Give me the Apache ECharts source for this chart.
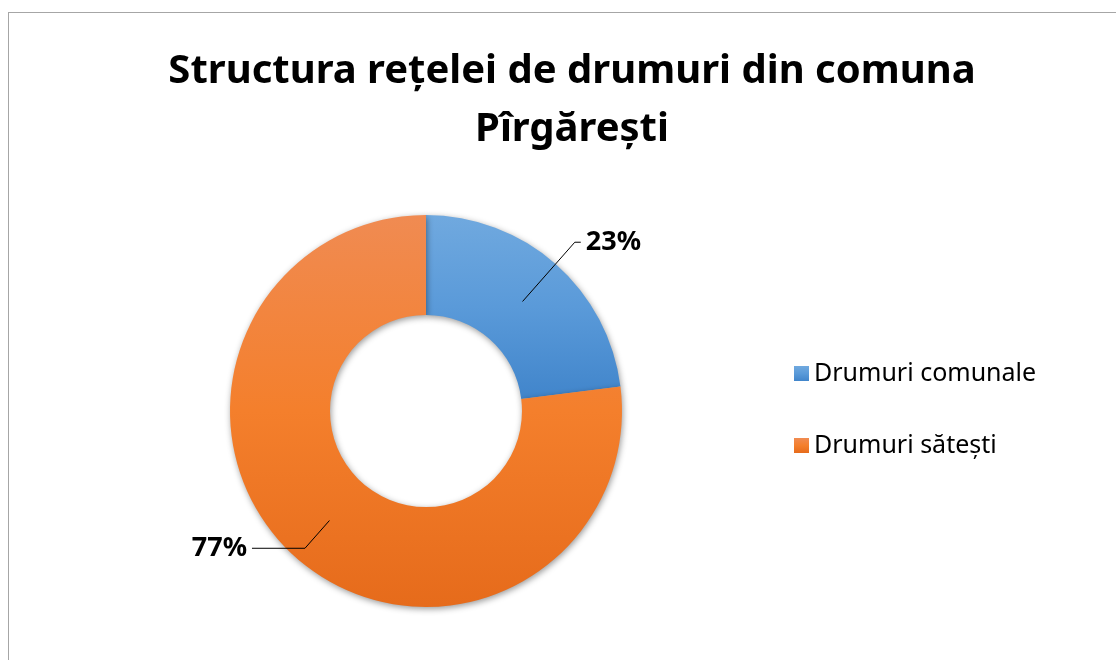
<!DOCTYPE html>
<html>
<head>
<meta charset="utf-8">
<style>
  html, body { margin: 0; padding: 0; background: #fff; overflow: hidden; }
  #frame { position: absolute; left: 8px; top: 12px; width: 1200px; height: 700px; border: 1px solid #a6a6a6; }
  #main { position: absolute; left: 0; top: 0; width: 1116px; height: 660px; }
</style>
<script src="https://cdn.jsdelivr.net/npm/echarts@6/dist/echarts.min.js"></script>
</head>
<body>
<div id="frame"></div>
<div id="main"></div>
<script>
// date
var categorii = ["Drumuri comunale", "Drumuri sătești"];
var procente = [23, 77];
var titlu = "Structura rețelei de drumuri din comuna\nPîrgărești";

var gradienti = [
  ["#70a9df", "#5a9ad9", "#4185cb"],
  ["#f08b52", "#f47f2c", "#e66b1b"]
];
// lungimile liniilor de etichetă
var linii = [[79, 6], [37, 53]];

var myChart = echarts.init(document.getElementById("main"));

var dateInel = categorii.map(function (nume, i) {
  return {
    name: nume,
    value: procente[i],
    itemStyle: {
      color: new echarts.graphic.LinearGradient(0, 0, 0, 1, [
        { offset: 0, color: gradienti[i][0] },
        { offset: 0.5, color: gradienti[i][1] },
        { offset: 1, color: gradienti[i][2] }
      ])
    }
  };
});

var dateEtichete = categorii.map(function (nume, i) {
  return {
    name: nume,
    value: procente[i],
    labelLine: { length: linii[i][0], length2: linii[i][1] }
  };
});

var option = {
  animation: false,
  title: {
    text: titlu,
    left: 567,
    textAlign: "center",
    top: 38,
    textStyle: {
      fontFamily: "Noto Sans",
      fontWeight: "bold",
      fontSize: 40,
      lineHeight: 58,
      color: "#000"
    }
  },
  legend: {
    orient: "vertical",
    left: 789,
    top: 356,
    itemWidth: 15,
    itemHeight: 15,
    itemGap: 47,
    icon: "rect",
    data: categorii,
    textStyle: { fontFamily: "Noto Sans", fontSize: 25, color: "#000" }
  },
  series: [
    {
      type: "pie",
      z: 2,
      center: [426, 411],
      radius: [96, 196],
      startAngle: 90,
      clockwise: true,
      silent: true,
      label: { show: false },
      labelLine: { show: false },
      itemStyle: {
        shadowBlur: 6,
        shadowColor: "rgba(0,0,0,0.4)",
        shadowOffsetX: 1,
        shadowOffsetY: 2
      },
      data: dateInel
    },
    {
      type: "pie",
      z: 5,
      center: [426, 411],
      radius: [0, 146],
      startAngle: 90,
      clockwise: true,
      silent: true,
      avoidLabelOverlap: false,
      itemStyle: { color: "rgba(0,0,0,0)" },
      label: {
        show: true,
        position: "outside",
        formatter: "{d}%",
        fontFamily: "Noto Sans",
        fontWeight: "bold",
        fontSize: 27,
        color: "#000"
      },
      labelLine: {
        show: true,
        smooth: false,
        lineStyle: { color: "#000", width: 1 }
      },
      data: dateEtichete
    }
  ]
};

myChart.setOption(option);
</script>
</body>
</html>
